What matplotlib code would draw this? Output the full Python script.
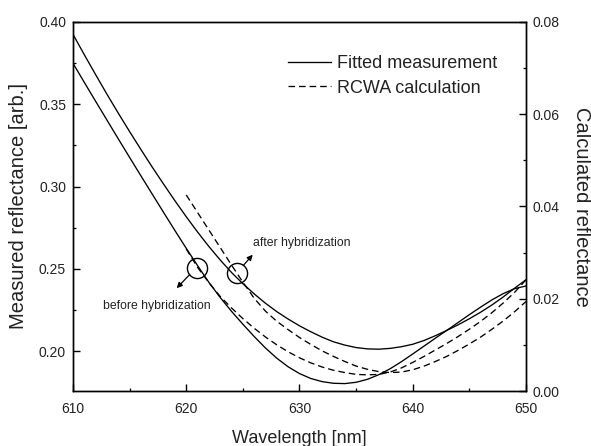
import matplotlib
matplotlib.use('Agg')
import matplotlib.pyplot as plt
from matplotlib.ticker import MultipleLocator, FormatStrFormatter
from matplotlib.lines import Line2D

plt.rcParams['font.family'] = ['Liberation Sans', 'DejaVu Sans']

# ---- data ----
wl_fit = list(range(610, 651))
meas_after = [0.3925, 0.3801, 0.3680, 0.3561, 0.3446, 0.3334, 0.3225, 0.3118, 0.3015, 0.2914,
              0.2817, 0.2724, 0.2636, 0.2554, 0.2478, 0.2410, 0.2348, 0.2291, 0.2240, 0.2195,
              0.2154, 0.2118, 0.2085, 0.2057, 0.2037, 0.2022, 0.2014, 0.2012, 0.2017, 0.2027,
              0.2042, 0.2065, 0.2094, 0.2126, 0.2160, 0.2197, 0.2237, 0.2281, 0.2330, 0.2383,
              0.2434]
meas_before = [0.3749, 0.3633, 0.3518, 0.3404, 0.3290, 0.3177, 0.3065, 0.2954, 0.2843, 0.2733,
               0.2625, 0.2520, 0.2418, 0.2326, 0.2242, 0.2164, 0.2089, 0.2019, 0.1957, 0.1905,
               0.1864, 0.1834, 0.1815, 0.1805, 0.1803, 0.1811, 0.1829, 0.1857, 0.1893, 0.1936,
               0.1983, 0.2031, 0.2079, 0.2126, 0.2174, 0.2222, 0.2268, 0.2312, 0.2350, 0.2380,
               0.2396]

wl_calc = list(range(620, 651))
calc_after = [0.0425, 0.0387, 0.0349, 0.0311, 0.0273, 0.0236, 0.0201, 0.0173, 0.0151, 0.0133,
              0.0116, 0.0101, 0.0087, 0.0075, 0.0064, 0.0054, 0.0047, 0.0042, 0.0040, 0.0041,
              0.0046, 0.0054, 0.0064, 0.0075, 0.0088, 0.0102, 0.0117, 0.0134, 0.0152, 0.0172,
              0.0194]
calc_before = [0.0308, 0.0268, 0.0235, 0.0205, 0.0180, 0.0157, 0.0136, 0.0117, 0.0100, 0.0085,
               0.0072, 0.0061, 0.0052, 0.0045, 0.0040, 0.0036, 0.0035, 0.0036, 0.0041, 0.0050,
               0.0062, 0.0075, 0.0089, 0.0103, 0.0118, 0.0134, 0.0151, 0.0170, 0.0191, 0.0214,
               0.0241]

x_ticks = [610, 620, 630, 640, 650]
left_ticks = [0.20, 0.25, 0.30, 0.35, 0.40]
right_ticks = [0.00, 0.02, 0.04, 0.06, 0.08]

legend_labels = ['Fitted measurement', 'RCWA calculation']

# ---- figure ----
fig = plt.figure(figsize=(5.91, 4.46), dpi=100)
ax = fig.add_axes([0.1235, 0.1233, 0.7665, 0.8274])
ax2 = ax.twinx()

lw = 0.95
dash = (5, 3)
ax.plot(wl_fit, meas_after, color='k', lw=lw)
ax.plot(wl_fit, meas_before, color='k', lw=lw)
ax2.plot(wl_calc, calc_after, color='k', lw=lw, dashes=dash)
ax2.plot(wl_calc, calc_before, color='k', lw=lw, dashes=dash)

ax.set_xlim(610, 650)
ax.set_ylim(0.1758, 0.40)
ax2.set_ylim(0.0, 0.08)

ax.set_xticks(x_ticks)
ax.xaxis.set_minor_locator(MultipleLocator(5))
ax.set_yticks(left_ticks)
ax.yaxis.set_minor_locator(MultipleLocator(0.025))
ax.yaxis.set_major_formatter(FormatStrFormatter('%.2f'))
ax2.set_yticks(right_ticks)
ax2.yaxis.set_minor_locator(MultipleLocator(0.01))
ax2.yaxis.set_major_formatter(FormatStrFormatter('%.2f'))

for a in (ax, ax2):
    for s in a.spines.values():
        s.set_linewidth(1.0)
ax.tick_params(axis='both', which='both', direction='in', top=False, right=False,
               labelsize=10, color='k', labelcolor='#222222')
ax.tick_params(axis='both', which='major', length=5, width=1.0)
ax.tick_params(axis='both', which='minor', length=2.5, width=0.9)
ax.tick_params(axis='x', pad=8)
ax.tick_params(axis='y', pad=5)
ax2.tick_params(axis='y', which='both', direction='in', labelsize=10, pad=5,
                labelcolor='#222222')
ax2.tick_params(axis='y', which='major', length=5, width=1.0)
ax2.tick_params(axis='y', which='minor', length=2.5, width=0.9)

ax.set_xlabel('Wavelength [nm]', fontsize=13, labelpad=10, color='#222222')
ax.set_ylabel('Measured reflectance [arb.]', fontsize=14.5, labelpad=8, color='#222222')
ax2.set_ylabel('Calculated reflectance', fontsize=14.5, rotation=270, labelpad=22,
               color='#222222')

# circles and arrows
ax.plot([620.92], [0.2508], 'o', ms=14.5, mfc='none', mec='k', mew=1.0)
ax.plot([624.45], [0.2472], 'o', ms=14.5, mfc='none', mec='k', mew=1.0)
ax.annotate('', xy=(619.16, 0.2383), xytext=(620.31, 0.2466),
            arrowprops=dict(arrowstyle='-|>', color='k', lw=0.9, mutation_scale=8,
                            shrinkA=0, shrinkB=0))
ax.annotate('', xy=(625.87, 0.2586), xytext=(625.03, 0.2520),
            arrowprops=dict(arrowstyle='-|>', color='k', lw=0.9, mutation_scale=8,
                            shrinkA=0, shrinkB=0))
ax.text(625.92, 0.2658, 'after hybridization', fontsize=8.8, ha='left', va='center',
        color='#222222')
ax.text(612.62, 0.2276, 'before hybridization', fontsize=8.8, ha='left', va='center',
        color='#222222')

handles = [Line2D([], [], color='k', lw=lw),
           Line2D([], [], color='k', lw=lw, dashes=dash)]
ax2.legend(handles, legend_labels, loc='upper left', bbox_to_anchor=(0.4746, 0.91),
           frameon=False, fontsize=13, handlelength=2.4, handletextpad=0.3,
           borderaxespad=0, borderpad=0, labelspacing=0.42, labelcolor='#222222')

fig.savefig('out.png', dpi=100)
